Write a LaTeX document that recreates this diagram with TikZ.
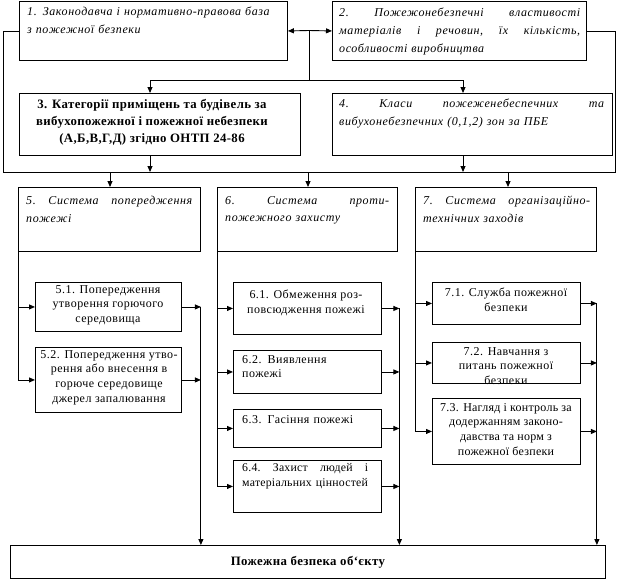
\documentclass[tikz,border=0pt]{standalone}
\usepackage{fontspec}
\setmainfont{Liberation Serif}
\newfontfamily\hdrfont[LetterSpace=5]{Liberation Serif}
\newfontfamily\subfont[LetterSpace=4]{Liberation Serif}
\newfontfamily\subfontb[LetterSpace=2]{Liberation Serif}
\newfontfamily\bldfont[LetterSpace=3]{Liberation Serif}
\usetikzlibrary{arrows.meta,calc}
\tikzset{
  frame/.style={draw, line width=0.9pt, inner sep=0pt, anchor=north west},
  hdr/.style={anchor=north west, inner sep=0pt, text width=#1, align=left,
    font=\hdrfont\itshape\fontsize{12}{17.8}\selectfont},
  boldtxt/.style={inner sep=0pt, align=center,
    font=\bldfont\bfseries\fontsize{12.8}{17}\selectfont},
  subc/.style={anchor=north, inner sep=0pt, align=center,
    font=\subfont\fontsize{12}{14.8}\selectfont},
  subl/.style={anchor=north west, inner sep=0pt, text width=#1, align=left,
    font=\subfont\fontsize{12}{14.8}\selectfont},
  ln/.style={line width=0.9pt},
  arr/.style={line width=0.9pt, -{Triangle[length=6pt,width=5pt]}}
}
\begin{document}
\begin{tikzpicture}[x=1pt,y=-1pt]
\useasboundingbox (0,0) rectangle (618,581);
% top boxes
\node[frame, minimum width=268pt, minimum height=59pt] (b1) at (19,1) {};
\node[frame, minimum width=254pt, minimum height=59pt] (b2) at (332,1) {};
\node[frame, minimum width=281pt, minimum height=62pt] (b3) at (19,93) {};
\node[frame, minimum width=280pt, minimum height=62pt] (b4) at (332,93) {};
% headers
\node[frame, minimum width=182pt, minimum height=64pt] (b5) at (18,187) {};
\node[frame, minimum width=180pt, minimum height=64pt] (b6) at (217,187) {};
\node[frame, minimum width=181pt, minimum height=64pt] (b7) at (415,187) {};
% sub boxes
\node[frame, minimum width=146pt, minimum height=49pt] (b51) at (35,282) {};
\node[frame, minimum width=146pt, minimum height=65pt] (b52) at (35,347) {};
\node[frame, minimum width=148pt, minimum height=52pt] (b61) at (233,282) {};
\node[frame, minimum width=148pt, minimum height=43pt] (b62) at (233,350) {};
\node[frame, minimum width=148pt, minimum height=38pt] (b63) at (233,409) {};
\node[frame, minimum width=148pt, minimum height=52pt] (b64) at (233,460) {};
\node[frame, minimum width=148pt, minimum height=42pt] (b71) at (432,282) {};
\node[frame, minimum width=148pt, minimum height=41pt] (b72) at (432,342) {};
\node[frame, minimum width=148pt, minimum height=66pt] (b73) at (432,398) {};
\node[frame, minimum width=595pt, minimum height=33pt] (bot) at (10,545) {};

% texts
\node[hdr=290pt] (t1) at (27,7) {1. Законодавча і нормативно-правова база\\ з пожежної безпеки};
\node[hdr=241pt] (t2) at (339,8) {2.\hfill Пожежонебезпечні\hfill властивості\\ матеріалів\hfill і\hfill речовин,\hfill їх\hfill кількість,\\ особливості виробництва};
\node[boldtxt, anchor=north] (t3) at (152,99) {3. Категорії приміщень та будівель за\\ вибухопожежної і пожежної небезпеки\\ (А,Б,В,Г,Д) згідно ОНТП 24-86};
\node[hdr=265pt] (t4) at (339,99) {4.\hfill Класи\hfill пожеженебеспечних\hfill та\\ вибухонебезпечних (0,1,2) зон за ПБЕ};
\node[hdr=166pt] (t5) at (26,196) {5.\hfill Система\hfill попередження\\ пожежі};
\node[hdr=164pt] (t6) at (225,196) {6.\hfill Система\hfill проти-\\ пожежного захисту};
\node[hdr=167pt] (t7) at (423,196) {7.\hfill Система\hfill організаційно-\\ технічних заходів};

\node[subc] (t51) at (108,285) {5.1. Попередження\\ утворення горючого\\ середовища};
\node[subc] (t52) at (109,350) {5.2. Попередження утво-\\ рення або внесення в\\ горюче середовище\\ джерел запалювання};
\node[subc] (t61) at (306,290) {6.1. Обмеження роз-\\ повсюдження пожежі};
\node[subl=134pt] (t62) at (242,355) {6.2. Виявлення\\ пожежі};
\node[subl=134pt] (t63) at (242,415) {6.3. Гасіння пожежі};
\node[subl=126pt, font=\subfontb\fontsize{11.8}{15.5}\selectfont] (t64) at (242,463) {6.4.\hfill Захист\hfill людей\hfill і\\ матеріальних цінностей};
\node[subc] (t71) at (506,288) {7.1. Служба пожежної\\ безпеки};
\node[subc] (t72) at (506,347) {7.2. Навчання з\\ питань пожежної\\ безпеки};
\node[subc, font=\subfontb\fontsize{12}{14.8}\selectfont] (t73) at (506,403) {7.3. Нагляд і контроль за\\ додержанням законо-\\ давства та норм з\\ пожежної безпеки};
\node[boldtxt] (tb) at (bot.center) {Пожежна безпека об‘єкту};

% top connectors
\coordinate (m) at (309,30.5);
\coordinate (h1) at (150,80);
\coordinate (h2) at (463,80);
\draw[arr] (m) -- (b1.east);
\draw[arr] (m) -- (b2.west);
\draw[ln] (m) -- (m |- h1);
\draw[ln] (h1) -- (h2);
\draw[arr] (h1) -- (h1 |- b3.north);
\draw[arr] (h2) -- (h2 |- b4.north);
\coordinate (L) at (3,172);
\coordinate (R) at (615,172);
\draw[ln] (b1.west) -- (b1.west -| L) -- (L) -- (R) -- (R |- b2.east) -- (b2.east);
\draw[arr] (b3.south -| h1) -- (h1 |- L);
\draw[arr] (b4.south -| h2) -- (h2 |- L);
\coordinate (d5) at (110,172);
\coordinate (d6) at (308,172);
\coordinate (d7) at (508,172);
\draw[arr] (d5) -- (d5 |- b5.north);
\draw[arr] (d6) -- (d6 |- b6.north);
\draw[arr] (d7) -- (d7 |- b7.north);

% column 5
\draw[ln] (b5.south west) -- (b5.south west |- b52.west);
\draw[arr] (b5.south west |- b51.west) -- (b51.west);
\draw[arr] (b5.south west |- b52.west) -- (b52.west);
\coordinate (r5) at (b5.south east |- b51.east);
\draw[arr] (b51.east) -- (r5);
\draw[arr] (b52.east) -- (r5 |- b52.east);
\draw[arr] (r5) -- (r5 |- bot.north);
% column 6
\draw[ln] (b6.south west) -- (b6.south west |- b64.west);
\draw[arr] (b6.south west |- b61.west) -- (b61.west);
\draw[arr] (b6.south west |- b62.west) -- (b62.west);
\draw[arr] (b6.south west |- b63.west) -- (b63.west);
\draw[arr] (b6.south west |- b64.west) -- (b64.west);
\coordinate (r6) at ($(b6.south east |- b61.east)+(1.5,0)$);
\draw[arr] (b61.east) -- (r6);
\draw[arr] (b62.east) -- (r6 |- b62.east);
\draw[arr] (b63.east) -- (r6 |- b63.east);
\draw[arr] (b64.east) -- (r6 |- b64.east);
\draw[arr] (r6) -- (r6 |- bot.north);
% column 7
\draw[ln] (b7.south west) -- (b7.south west |- b73.west);
\draw[arr] (b7.south west |- b71.west) -- (b71.west);
\draw[arr] (b7.south west |- b72.west) -- (b72.west);
\draw[arr] (b7.south west |- b73.west) -- (b73.west);
\coordinate (r7) at (b7.south east |- b71.east);
\draw[arr] (b71.east) -- (r7);
\draw[arr] (b72.east) -- (r7 |- b72.east);
\draw[arr] (b73.east) -- (r7 |- b73.east);
\draw[arr] (r7) -- (r7 |- bot.north);
\end{tikzpicture}
\end{document}
